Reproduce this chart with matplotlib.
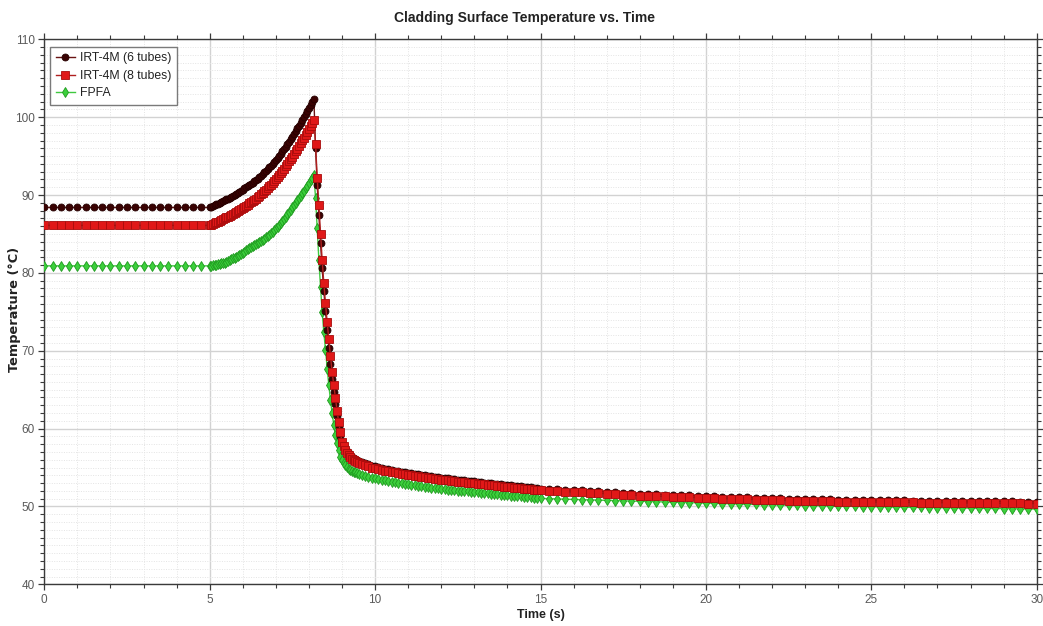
import numpy as np
import matplotlib
matplotlib.use("Agg")
import matplotlib.pyplot as plt
from matplotlib.ticker import MultipleLocator
from matplotlib import font_manager

# ---- sample times (s) for each stage of the transient ----
t_hold = np.linspace(0.0, 4.75, 20)    # steady state
t_rise = np.linspace(5.0, 8.1, 63)     # heat-up
t_drop = np.linspace(8.15, 9.5, 28)    # scram / fast cool-down
t_tail = np.linspace(9.6, 15.0, 55)    # slow decay
t_late = np.linspace(15.25, 30.0, 60)  # long-term

# ---- cladding surface temperature (°C), IRT-4M (6 tubes) ----
irt6_hold = [88.4, 88.4, 88.4, 88.4, 88.4, 88.4, 88.4, 88.4, 88.4, 88.4,
             88.4, 88.4, 88.4, 88.4, 88.4, 88.4, 88.4, 88.4, 88.4, 88.4]
irt6_rise = [88.4, 88.5, 88.6, 88.7, 88.8, 88.9, 89.0, 89.1, 89.2, 89.32,
             89.45, 89.55, 89.65, 89.77, 89.9, 90.02, 90.15, 90.27, 90.4, 90.55,
             90.7, 90.85, 91.0, 91.15, 91.3, 91.45, 91.6, 91.77, 91.95, 92.12,
             92.3, 92.5, 92.7, 92.9, 93.1, 93.32, 93.55, 93.77, 94.0, 94.25,
             94.5, 94.75, 95.0, 95.3, 95.6, 95.9, 96.2, 96.52, 96.85, 97.17,
             97.5, 97.85, 98.2, 98.55, 98.9, 99.27, 99.65, 100.02, 100.4, 100.8,
             101.2, 101.6, 102.0]
irt6_drop = [102.3, 96.0, 91.3, 87.4, 83.8, 80.6, 77.7, 75.1, 72.7, 70.4,
             68.3, 66.4, 64.7, 63.1, 61.6, 60.2, 59.1, 58.3, 57.9, 57.45,
             57.1, 56.8, 56.55, 56.35, 56.2, 56.05, 55.95, 55.85]
irt6_tail = [55.7, 55.55, 55.4, 55.25,
             55.15, 55.05, 54.95, 54.85, 54.77, 54.69, 54.61, 54.53, 54.45, 54.38,
             54.31, 54.24, 54.17, 54.11, 54.05, 53.99, 53.93, 53.87, 53.81, 53.75,
             53.7, 53.65, 53.6, 53.55, 53.5, 53.45, 53.4, 53.35, 53.3, 53.25,
             53.21, 53.16, 53.12, 53.07, 53.03, 52.98, 52.94, 52.89, 52.85, 52.8,
             52.75, 52.71, 52.66, 52.62, 52.57, 52.53, 52.48, 52.44, 52.39, 52.35,
             52.3]
irt6_late = [52.25, 52.2, 52.15, 52.1, 52.05, 52.0, 51.95, 51.88, 51.81, 51.75,
             51.7, 51.65, 51.61, 51.57, 51.53, 51.49, 51.45, 51.41, 51.37,
             51.33, 51.29, 51.25, 51.22, 51.19, 51.16, 51.13, 51.1, 51.07, 51.04,
             51.01, 50.98, 50.96, 50.94, 50.92, 50.9, 50.88, 50.86, 50.85, 50.83,
             50.82, 50.81, 50.79, 50.78, 50.77, 50.76, 50.75, 50.74, 50.73, 50.72,
             50.71, 50.7, 50.69, 50.68, 50.67, 50.66, 50.65, 50.64, 50.63, 50.62,
             50.61]

# ---- IRT-4M (8 tubes) ----
irt8_hold = [86.1, 86.1, 86.1, 86.1, 86.1, 86.1, 86.1, 86.1, 86.1, 86.1,
             86.1, 86.1, 86.1, 86.1, 86.1, 86.1, 86.1, 86.1, 86.1, 86.1]
irt8_rise = [86.1, 86.2, 86.29, 86.39, 86.49, 86.58, 86.68, 86.78, 86.88, 87.0,
             87.12, 87.21, 87.31, 87.43, 87.56, 87.68, 87.8, 87.92, 88.04, 88.18,
             88.33, 88.47, 88.62, 88.77, 88.92, 89.06, 89.21, 89.38, 89.55, 89.72,
             89.89, 90.08, 90.28, 90.47, 90.66, 90.88, 91.1, 91.32, 91.54, 91.78,
             92.02, 92.26, 92.51, 92.8, 93.09, 93.38, 93.67, 93.99, 94.31, 94.62,
             94.94, 95.28, 95.62, 95.96, 96.3, 96.66, 97.02, 97.38, 97.75, 98.14,
             98.53, 98.92, 99.31]
irt8_drop = [99.6, 96.6, 92.2, 88.7, 85.0, 81.6, 78.7, 76.1, 73.7, 71.5,
             69.3, 67.3, 65.6, 63.9, 62.3, 60.8, 59.5, 58.3, 57.7, 57.2,
             56.85, 56.55, 56.3, 56.1, 55.95, 55.8, 55.7, 55.6]
irt8_tail = [55.45, 55.3, 55.15, 55.0,
             54.9, 54.8, 54.7, 54.6, 54.52, 54.44, 54.36, 54.28, 54.2, 54.13,
             54.06, 53.99, 53.92, 53.86, 53.8, 53.74, 53.68, 53.62, 53.56, 53.5,
             53.45, 53.4, 53.35, 53.3, 53.25, 53.2, 53.15, 53.1, 53.05, 53.0,
             52.96, 52.91, 52.87, 52.82, 52.78, 52.73, 52.69, 52.64, 52.6, 52.55,
             52.5, 52.46, 52.41, 52.37, 52.32, 52.28, 52.23, 52.19, 52.14, 52.1,
             52.05]
irt8_late = [52.0, 51.95, 51.9, 51.85, 51.8, 51.75, 51.7, 51.63, 51.56, 51.5,
             51.45, 51.4, 51.36, 51.32, 51.28, 51.24, 51.2, 51.16, 51.12,
             51.08, 51.04, 51.0, 50.97, 50.94, 50.91, 50.88, 50.85, 50.82, 50.79,
             50.76, 50.73, 50.71, 50.69, 50.67, 50.65, 50.63, 50.61, 50.6, 50.58,
             50.57, 50.56, 50.54, 50.53, 50.52, 50.51, 50.5, 50.49, 50.48, 50.47,
             50.46, 50.45, 50.44, 50.43, 50.42, 50.41, 50.4, 50.39, 50.38, 50.37,
             50.36]

# ---- FPFA ----
fpfa_hold = [80.9, 80.9, 80.9, 80.9, 80.9, 80.9, 80.9, 80.9, 80.9, 80.9,
             80.9, 80.9, 80.9, 80.9, 80.9, 80.9, 80.9, 80.9, 80.9, 80.9]
fpfa_rise = [80.9, 80.94, 80.98, 81.02, 81.06, 81.1, 81.15, 81.21, 81.27, 81.33,
             81.4, 81.5, 81.6, 81.72, 81.85, 81.97, 82.1, 82.22, 82.35, 82.47,
             82.6, 82.74, 82.88, 83.01, 83.15, 83.28, 83.42, 83.56, 83.7, 83.84,
             83.98, 84.12, 84.26, 84.4, 84.55, 84.72, 84.9, 85.1, 85.3, 85.5,
             85.7, 85.92, 86.15, 86.4, 86.65, 86.92, 87.2, 87.5, 87.8, 88.1,
             88.4, 88.7, 89.0, 89.3, 89.6, 89.92, 90.25, 90.57, 90.9, 91.22,
             91.55, 91.87, 92.2]
fpfa_drop = [92.6, 89.6, 85.7, 81.7, 78.2, 75.0, 72.4, 70.1, 67.7, 65.6,
             63.7, 62.0, 60.5, 59.2, 58.1, 57.2, 56.4, 56.0, 55.6, 55.3,
             55.05, 54.85, 54.7, 54.58, 54.47, 54.37, 54.28, 54.2]
fpfa_tail = [54.05, 53.92, 53.8, 53.7,
             53.6, 53.5, 53.42, 53.34, 53.26, 53.18, 53.1, 53.03, 52.96, 52.89,
             52.82, 52.76, 52.7, 52.64, 52.58, 52.52, 52.46, 52.41, 52.36, 52.31,
             52.26, 52.21, 52.16, 52.12, 52.08, 52.04, 52.0, 51.96, 51.92, 51.88,
             51.84, 51.8, 51.76, 51.72, 51.68, 51.64, 51.6, 51.56, 51.52, 51.48,
             51.44, 51.4, 51.36, 51.32, 51.28, 51.24, 51.2, 51.16, 51.12, 51.08,
             51.04]
fpfa_late = [51.0, 50.96, 50.93, 50.9, 50.87, 50.84, 50.81, 50.77, 50.74, 50.71,
             50.68, 50.65, 50.62, 50.59, 50.56, 50.53, 50.5, 50.47, 50.44,
             50.41, 50.38, 50.36, 50.33, 50.31, 50.28, 50.26, 50.23, 50.21, 50.18,
             50.16, 50.14, 50.12, 50.1, 50.08, 50.06, 50.04, 50.02, 50.0, 49.98,
             49.96, 49.95, 49.93, 49.92, 49.9, 49.89, 49.87, 49.86, 49.84, 49.83,
             49.81, 49.8, 49.78, 49.77, 49.75, 49.74, 49.72, 49.71, 49.69, 49.68,
             49.66]

series_labels = ["IRT-4M (6 tubes)", "IRT-4M (8 tubes)", "FPFA"]
x_ticks = [0, 5, 10, 15, 20, 25, 30]
y_ticks = [40, 50, 60, 70, 80, 90, 100, 110]

time = np.concatenate([t_hold, t_rise, t_drop, t_tail, t_late])
irt6 = np.concatenate([irt6_hold, irt6_rise, irt6_drop, irt6_tail, irt6_late])
irt8 = np.concatenate([irt8_hold, irt8_rise, irt8_drop, irt8_tail, irt8_late])
fpfa = np.concatenate([fpfa_hold, fpfa_rise, fpfa_drop, fpfa_tail, fpfa_late])

# pick a narrow sans face if one is available
_names = {f.name for f in font_manager.fontManager.ttflist}
NARROW = "Liberation Sans Narrow" if "Liberation Sans Narrow" in _names else "Liberation Sans"

W, H = 1043, 626
fig = plt.figure(figsize=(W / 100, H / 100), dpi=100)
fig.patch.set_facecolor("white")
L, R, T, B = 44.3, 1036.7, 39.3, 584.3
ax = fig.add_axes([L / W, 1 - B / H, (R - L) / W, (B - T) / H])

# FPFA first so the IRT-4M markers sit above it
h_fp, = ax.plot(time, fpfa, color="#3fc83f", lw=1.0, marker="d", ms=4.6,
                mfc="#3ccf3c", mec="#1f9a1f", mew=0.6, zorder=3,
                label=series_labels[2])
h6, = ax.plot(time, irt6, color="#6a1414", lw=1.0, marker="o", ms=5.0,
              mfc="#3a0202", mec="#250000", mew=0.6, zorder=4,
              label=series_labels[0])
h8, = ax.plot(time, irt8, color="#b02020", lw=1.0, marker="s", ms=5.6,
              mfc="#e01818", mec="#a80c0c", mew=0.6, zorder=5,
              label=series_labels[1])

ax.set_xlim(0, 30)
ax.set_ylim(40, 110)
ax.set_xticks(x_ticks)
ax.set_yticks(y_ticks)
ax.xaxis.set_minor_locator(MultipleLocator(1))
ax.yaxis.set_minor_locator(MultipleLocator(1))

ax.grid(which="major", color="#d2d2d2", lw=1.0, ls="-", zorder=0)
ax.grid(which="minor", color="#e4e4e4", lw=0.7, ls=(0, (1, 1.5)), zorder=0)
ax.set_axisbelow(True)

for side in ["left", "bottom", "top", "right"]:
    ax.spines[side].set_color("#3a3a3a")
    ax.spines[side].set_linewidth(1.0)

ax.tick_params(which="both", direction="out", top=True, right=True,
               colors="#3a3a3a", labelcolor="#5a5a5a", labelsize=8.5)
ax.tick_params(which="major", length=4.5, width=0.9, pad=2.5)
ax.tick_params(which="minor", length=3.0, width=0.8)
for lab in ax.get_xticklabels() + ax.get_yticklabels():
    lab.set_family(NARROW)

fig.text(525 / W, 1 - 18 / H, "Cladding Surface Temperature vs. Time",
         ha="center", va="center", fontsize=10, fontweight="bold",
         color="#222222", family=NARROW)
fig.text(541 / W, 1 - 615 / H, "Time (s)", ha="center", va="center",
         fontsize=9, fontweight="bold", color="#222222", family=NARROW)
fig.text(15 / W, 1 - 309 / H, "Temperature (°C)", ha="center", va="center",
         rotation=90, fontsize=9.3, fontweight="bold", color="#222222",
         family="DejaVu Sans")

leg = ax.legend(handles=[h6, h8, h_fp], loc="upper left",
                bbox_to_anchor=(5.7 / (R - L), 1 - 7.7 / (B - T)),
                borderaxespad=0, fancybox=False, framealpha=1,
                edgecolor="#7a7a7a", handlelength=1.6, handletextpad=0.4,
                labelspacing=0.45, borderpad=0.45,
                prop={"family": NARROW, "size": 8.8})
leg.get_frame().set_linewidth(1.0)
for txt in leg.get_texts():
    txt.set_color("#222222")

fig.savefig("out.png", dpi=100, facecolor="white")
